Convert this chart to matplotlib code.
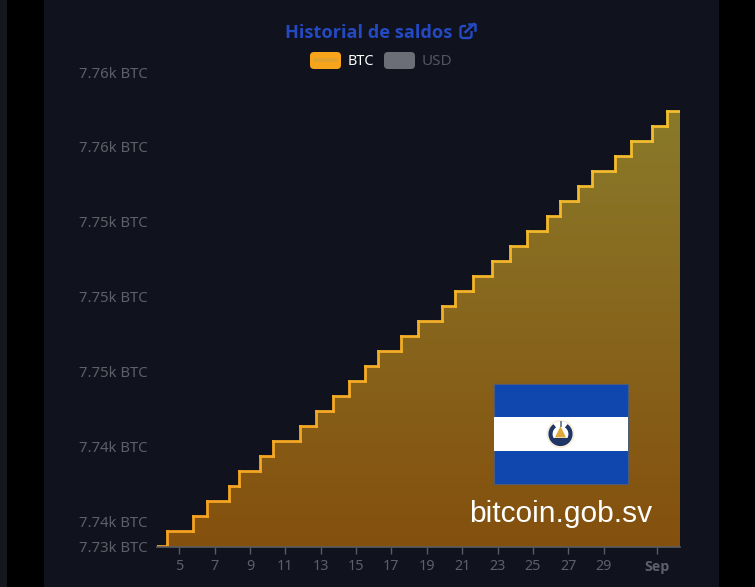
import numpy as np
import matplotlib
matplotlib.use("Agg")
import matplotlib.pyplot as plt
from matplotlib.patches import Rectangle, FancyBboxPatch, Circle, Polygon, PathPatch, Arc
from matplotlib.path import Path
from matplotlib.collections import LineCollection
from matplotlib.colors import LinearSegmentedColormap

W, H = 755, 587

buy_days = [3.74, 4.29, 5.76, 6.57, 7.79, 8.39, 9.58, 10.30, 11.81, 12.75,
            13.68, 14.62, 15.49, 16.22, 17.52, 18.52, 19.88, 20.58, 21.63,
            22.67, 23.72, 24.65, 25.81, 26.55, 27.55, 28.36, 29.66, 30.53,
            31.75, 32.58]
balance = [7733.4, 7734.4, 7735.4, 7736.4, 7737.4, 7738.4, 7739.4, 7740.4,
           7741.4, 7742.4, 7743.4, 7744.4, 7745.4, 7746.4, 7747.4, 7748.4,
           7749.4, 7750.4, 7751.4, 7752.4, 7753.4, 7754.4, 7755.4, 7756.4,
           7757.4, 7758.4, 7759.4, 7760.4, 7761.4, 7762.4]
last_day = 33.32

y_ticks = [7733.33, 7735, 7740, 7745, 7750, 7755, 7760, 7765]
y_labels = ["7.73k BTC", "7.74k BTC", "7.74k BTC", "7.75k BTC", "7.75k BTC",
            "7.75k BTC", "7.76k BTC", "7.76k BTC"]
x_ticks = [5, 7, 9, 11, 13, 15, 17, 19, 21, 23, 25, 27, 29, 32]
x_labels = ["5", "7", "9", "11", "13", "15", "17", "19", "21", "23", "25",
            "27", "29", "Sep"]

PANEL = "#10131d"
TICK = "#5d6069"
plt.rcParams["font.family"] = ["Noto Sans", "DejaVu Sans"]

fig = plt.figure(figsize=(W / 100, H / 100), dpi=100, facecolor="black")

# page background, in pixels
bg = fig.add_axes([0, 0, 1, 1], zorder=0)
bg.set_xlim(0, W)
bg.set_ylim(H, 0)
bg.axis("off")
bg.add_patch(Rectangle((0, 0), 7, H, color="#14171d", lw=0))
bg.add_patch(Rectangle((44, 0), 675, H, color=PANEL, lw=0))

# chart
x0, x1, y_bot, y_top = 157, 680, 547, 72
ax = fig.add_axes([x0 / W, 1 - y_bot / H, (x1 - x0) / W, (y_bot - y_top) / H], zorder=1)
ax.set_facecolor("none")

xs = np.array(buy_days + [last_day])
ys = np.array(balance + [balance[-1]])
sx = np.repeat(xs, 2)[1:-1]
sy = np.repeat(ys[:-1], 2)

# gradient under the steps
fill_cmap = LinearSegmentedColormap.from_list("fill", ["#84500e", "#8a7a2a"])
grad = np.linspace(0, 1, 256).reshape(-1, 1)
img = ax.imshow(grad, origin="lower", aspect="auto", cmap=fill_cmap,
                extent=[xs[0], last_day, y_ticks[0], balance[-1]], zorder=1)
verts = list(zip(sx, sy)) + [(last_day, y_ticks[0]), (xs[0], y_ticks[0])]
clip = PathPatch(Path(verts + [verts[0]], closed=True), transform=ax.transData,
                 fc="none", ec="none")
ax.add_patch(clip)
img.set_clip_path(clip)
ax.set_xlim(buy_days[0], last_day)
ax.set_ylim(y_ticks[0], y_ticks[-1])

# step line, orange at the bottom and yellow at the top
line_cmap = LinearSegmentedColormap.from_list("line", ["#f6a11f", "#f2bf2f"])
pts = np.column_stack([sx, sy])
segs = np.stack([pts[:-1], pts[1:]], axis=1)
lc = LineCollection(segs, cmap=line_cmap, linewidths=2.0, capstyle="projecting", zorder=3)
lc.set_array((sy[:-1] - sy.min()) / (sy.max() - sy.min()))
ax.add_collection(lc)

for s in ["top", "right", "left"]:
    ax.spines[s].set_visible(False)
ax.spines["bottom"].set_color("#5a5c63")
ax.spines["bottom"].set_linewidth(1.2)
ax.spines["bottom"].set_zorder(4)

ax.set_yticks(y_ticks, y_labels)
ax.set_xticks(x_ticks, x_labels)
ax.tick_params(axis="y", length=0, pad=7, labelcolor=TICK, labelsize=10.7)
ax.tick_params(axis="x", length=5, width=1, color="#5a5c63", pad=4,
               labelcolor=TICK, labelsize=10.3)
fig.canvas.draw()
for lab in ax.get_xticklabels():
    if lab.get_text() == "Sep":
        lab.set_fontweight("bold")
        lab.set_fontfamily(["Open Sans", "DejaVu Sans"])

# top layer: title, legend, flag
top = fig.add_axes([0, 0, 1, 1], zorder=2)
top.set_xlim(0, W)
top.set_ylim(H, 0)
top.axis("off")

BLUE = "#2449c2"
top.text(369, 32.5, "Historial de saldos", color=BLUE, fontsize=13.1, fontweight="bold",
         family=["Open Sans", "DejaVu Sans"], ha="center", va="center")
# external link icon
top.add_patch(FancyBboxPatch((460.5, 26), 11, 12, boxstyle="round,pad=0,rounding_size=2.5",
                             fc="none", ec=BLUE, lw=1.7))
top.add_patch(Rectangle((465.5, 22), 11, 9, color=PANEL, lw=0))
top.plot([465.5, 474], [32, 24], color=BLUE, lw=1.8)
top.plot([468.5, 474.5, 474.5], [23.5, 23.5, 29.5], color=BLUE, lw=1.8)

top.add_patch(FancyBboxPatch((310, 52), 31, 17, boxstyle="round,pad=0,rounding_size=4",
                             fc="#f9a51c", ec="none"))
top.add_patch(Rectangle((313, 58), 25, 4, color="#e2a32e", lw=0))
top.text(348, 61.5, "BTC", color="white", fontsize=10.4, va="center")
top.add_patch(FancyBboxPatch((384, 52), 31, 17, boxstyle="round,pad=0,rounding_size=4",
                             fc="#6b6e76", ec="none"))
top.text(422, 61.5, "USD", color="#52555d", fontsize=11, va="center")

# flag
top.add_patch(Rectangle((494, 384), 134, 100, fc="#0f47af", ec="#4d5a78", lw=0.8))
top.add_patch(Rectangle((494, 417), 134, 33.5, fc="white", lw=0))
# coat of arms
top.add_patch(Circle((560.5, 434), 14, fc="#f7ecd6", ec="none"))
top.add_patch(Circle((560.5, 434), 12.5, fc="white", ec="none"))
top.add_patch(Arc((560.5, 434), 20, 20, theta1=-55, theta2=235, color="#1f3566", lw=3))
top.add_patch(Polygon([[560.5, 426], [555, 437.5], [566, 437.5]], fc="#e0a83a", ec="none"))
top.add_patch(Rectangle((553, 438), 15, 4.5, fc="#1f3566", lw=0))
top.add_patch(Rectangle((559.5, 421), 2, 6, fc="#7c8aa0", lw=0))

top.text(561, 514, "bitcoin.gob.sv", color="white", fontsize=21.5, family="Liberation Sans",
         ha="center", va="center")

fig.savefig("out.png", dpi=100, facecolor=fig.get_facecolor())
